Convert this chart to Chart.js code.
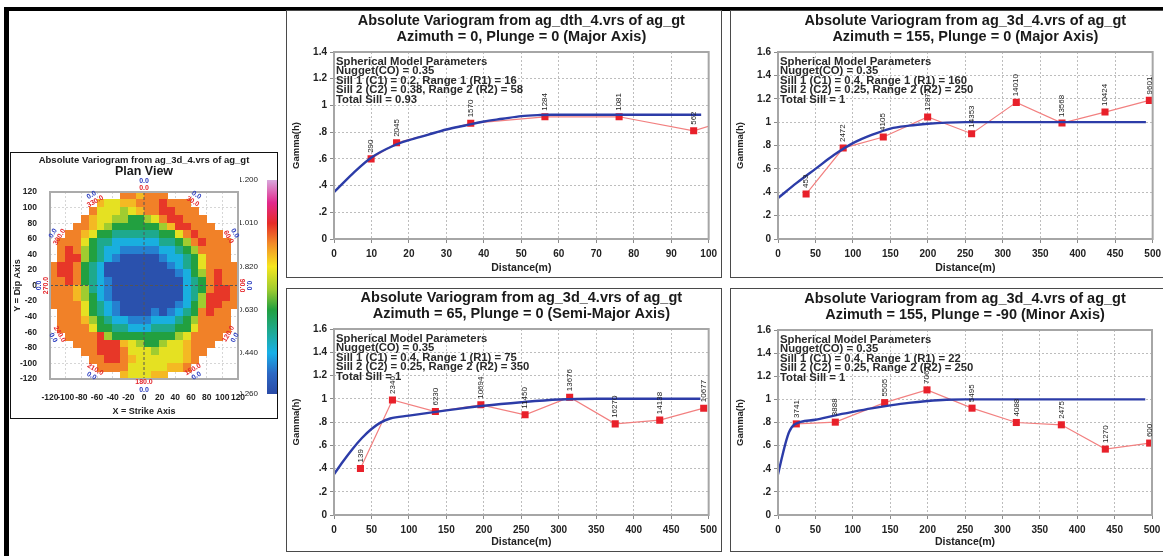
<!DOCTYPE html>
<html>
<head>
<meta charset="utf-8">
<script src="https://cdn.jsdelivr.net/npm/chart.js@4.4.1/dist/chart.umd.min.js"></script>
<style>
  html, body { margin: 0; padding: 0; background: #fff; }
  body { width: 1163px; height: 556px; position: relative; overflow: hidden; }
  .bar { position: absolute; background: #000; }
  .panel { position: absolute; box-shadow: inset 0 0 0 1px #4a4a4a; }
  .panel canvas, #planScale { position: absolute; left: 0; top: 0; }
  #planScale { left: 240px; top: 172px; }
</style>
</head>
<body>
<div class="bar" style="left:4px;top:7px;width:1159px;height:4px"></div>
<div class="bar" style="left:4px;top:7px;width:5px;height:549px"></div>

<div class="panel" style="left:10px;top:152px;width:268px;height:267px;box-shadow:inset 0 0 0 1px #111">
  <canvas id="planView" width="268" height="267"></canvas>
</div>
<canvas id="planScale" width="38" height="230"></canvas>

<div class="panel" style="left:286px;top:10px;width:436px;height:268px"><canvas id="vgAz0" width="436" height="268"></canvas></div>
<div class="panel" style="left:730px;top:10px;width:436px;height:268px"><canvas id="vgAz155" width="436" height="268"></canvas></div>
<div class="panel" style="left:286px;top:288px;width:436px;height:264px"><canvas id="vgAz65" width="436" height="264"></canvas></div>
<div class="panel" style="left:730px;top:288px;width:436px;height:264px"><canvas id="vgMinor" width="436" height="264"></canvas></div>

<script>
const FONT = '"Liberation Sans", Arial, sans-serif';

// ---------- variogram map (plan view) ----------
const planX = [-115, -105, -95, -85, -75, -65, -55, -45, -35, -25, -15, -5, 5, 15, 25, 35, 45, 55, 65, 75, 85, 95, 105, 115];
const planY = [115, 105, 95, 85, 75, 65, 55, 45, 35, 25, 15, 5, -5, -15, -25, -35, -45, -55, -65, -75, -85, -95, -105, -115];
// gamma value for each digit used in planRows ('.' = no value)
const planLevels = [0.28, 0.38, 0.45, 0.54, 0.63, 0.72, 0.80, 0.87, 0.93, 1.00];
const planRows = [
  '.........887888.........',
  '......766778889888......',
  '.....86665678899888.....',
  '....8766554456899888....',
  '...887654444445799888...',
  '..88764433333344689888..',
  '.8886433222222334589888.',
  '.8985432211111223458888.',
  '.8995432100000122346888.',
  '899843200000000123468888',
  '899843200000000012458988',
  '889843210000000002348988',
  '888753210000000002348998',
  '888754210000000002359998',
  '888864321000000012459988',
  '.8886432100001012348988.',
  '.8887543221112223458888.',
  '.8888644332223334468888.',
  '..88889544444444568888..',
  '...888999765445667888...',
  '....8899986665666788....',
  '.....88998766666678.....',
  '......888866666778......',
  '.........766677.........'
];
const planTicks = [-120, -100, -80, -60, -40, -20, 0, 20, 40, 60, 80, 100, 120];
const planAzimuths = [0, 30, 60, 90, 120, 150, 180, 210, 240, 270, 300, 330];
const colorbarTicks = [0.26, 0.44, 0.63, 0.82, 1.01, 1.2];

// ---------- directional variograms ----------
const az0Title = ['Absolute Variogram from ag_dth_4.vrs of ag_gt', 'Azimuth = 0, Plunge = 0 (Major Axis)'];
const az0Params = ['Spherical Model Parameters', 'Nugget(CO) = 0.35', 'Sill 1 (C1) = 0.2, Range 1 (R1) = 16', 'Sill 2 (C2) = 0.38, Range 2 (R2) = 58', 'Total Sill = 0.93'];
const az0Lag = [9.9, 16.7, 36.5, 56.3, 76.1, 96.0, 116.0];
const az0Gamma = [0.60, 0.72, 0.866, 0.915, 0.915, 0.81, 0.985];
const az0Pairs = ['290', '2045', '1570', '1284', '1081', '562', ''];
const az0ModelLag = [0, 5, 10, 16, 20, 25, 30, 35, 40, 45, 50, 55, 58, 98];
const az0ModelGamma = [0.35, 0.49, 0.61, 0.70, 0.74, 0.78, 0.82, 0.85, 0.88, 0.90, 0.92, 0.928, 0.93, 0.93];

const az155Title = ['Absolute Variogram from ag_3d_4.vrs of ag_gt', 'Azimuth = 155, Plunge = 0 (Major Axis)'];
const az155Params = ['Spherical Model Parameters', 'Nugget(CO) = 0.35', 'Sill 1 (C1) = 0.4, Range 1 (R1) = 160', 'Sill 2 (C2) = 0.25, Range 2 (R2) = 250', 'Total Sill = 1'];
const az155Lag = [37.5, 87.0, 140.5, 199.7, 258.4, 318.0, 379.0, 436.4, 495.6];
const az155Gamma = [0.385, 0.778, 0.873, 1.044, 0.901, 1.169, 0.992, 1.086, 1.186];
const az155Pairs = ['453', '2472', '4105', '12877', '14353', '14010', '13568', '10424', '9601'];
const az155ModelLag = [0, 25, 50, 75, 100, 125, 150, 175, 200, 225, 250, 491];
const az155ModelGamma = [0.35, 0.48, 0.60, 0.72, 0.82, 0.89, 0.945, 0.97, 0.986, 0.996, 1.0, 1.0];

const az65Title = ['Absolute Variogram from ag_3d_4.vrs of ag_gt', 'Azimuth = 65, Plunge = 0 (Semi-Major Axis)'];
const az65Params = ['Spherical Model Parameters', 'Nugget(CO) = 0.35', 'Sill 1 (C1) = 0.4, Range 1 (R1) = 75', 'Sill 2 (C2) = 0.25, Range 2 (R2) = 350', 'Total Sill = 1'];
const az65Lag = [35.3, 78.0, 135.3, 196.0, 255.0, 314.5, 375.3, 434.7, 493.4];
const az65Gamma = [0.40, 0.99, 0.89, 0.948, 0.862, 1.013, 0.784, 0.816, 0.919];
const az65Pairs = ['139', '2340', '6230', '10694', '11450', '13676', '16270', '14138', '10677'];
const az65ModelLag = [0, 12, 25, 37, 50, 62, 75, 100, 150, 200, 250, 300, 350, 489];
const az65ModelGamma = [0.35, 0.46, 0.57, 0.66, 0.74, 0.795, 0.83, 0.855, 0.90, 0.94, 0.97, 0.993, 1.0, 1.0];

const minorTitle = ['Absolute Variogram from ag_3d_4.vrs of ag_gt', 'Azimuth = 155, Plunge = -90 (Minor Axis)'];
const minorParams = ['Spherical Model Parameters', 'Nugget(CO) = 0.35', 'Sill 1 (C1) = 0.4, Range 1 (R1) = 22', 'Sill 2 (C2) = 0.25, Range 2 (R2) = 250', 'Total Sill = 1'];
const minorLag = [24.5, 76.6, 142.6, 199.2, 259.4, 318.6, 378.8, 437.6, 496.9];
const minorGamma = [0.788, 0.803, 0.972, 1.082, 0.924, 0.80, 0.78, 0.57, 0.622];
const minorPairs = ['3741', '3888', '5505', '7062', '5495', '4088', '2475', '1270', '600'];
const minorModelLag = [0, 5, 10, 15, 22, 50, 75, 100, 125, 150, 175, 200, 225, 250, 491];
const minorModelGamma = [0.35, 0.49, 0.62, 0.72, 0.783, 0.824, 0.86, 0.892, 0.922, 0.948, 0.97, 0.986, 0.997, 1.0, 1.0];

// rainbow colour ramp used by the map and its scale bar
const PALETTE = [
  [0.26, [42, 74, 166]], [0.35, [44, 104, 196]], [0.44, [24, 176, 232]], [0.53, [30, 170, 150]],
  [0.63, [34, 160, 64]], [0.72, [160, 204, 48]], [0.82, [246, 230, 30]], [0.92, [242, 140, 40]],
  [1.01, [230, 44, 40]], [1.10, [226, 40, 140]], [1.20, [216, 168, 220]]
];

function gammaColor(v) {
  if (v <= PALETTE[0][0]) return `rgb(${PALETTE[0][1].join(',')})`;
  for (let i = 1; i < PALETTE.length; i++) {
    const [v1, c1] = PALETTE[i];
    if (v <= v1) {
      const [v0, c0] = PALETTE[i - 1];
      const t = (v - v0) / (v1 - v0);
      const c = c0.map((k, j) => Math.round(k + (c1[j] - k) * t));
      return `rgb(${c.join(',')})`;
    }
  }
  return `rgb(${PALETTE[PALETTE.length - 1][1].join(',')})`;
}

function gammaTick(v) {
  const r = Math.round(v * 10) / 10;
  if (r === 0) return '0';
  return r < 1 ? String(r).slice(1) : String(r);
}

// ---------- plan view ----------
const planCells = {
  id: 'planCells',
  beforeDatasetsDraw(chart) {
    const { ctx, chartArea: a, scales: { x, y } } = chart;
    ctx.save();
    ctx.beginPath();
    ctx.rect(a.left, a.top, a.right - a.left, a.bottom - a.top);
    ctx.clip();
    planRows.forEach((row, j) => {
      [...row].forEach((ch, i) => {
        if (ch === '.') return;
        const x0 = Math.floor(x.getPixelForValue(planX[i] - 5));
        const x1 = Math.ceil(x.getPixelForValue(planX[i] + 5));
        const y0 = Math.floor(y.getPixelForValue(planY[j] + 5));
        const y1 = Math.ceil(y.getPixelForValue(planY[j] - 5));
        ctx.fillStyle = gammaColor(planLevels[+ch]);
        ctx.fillRect(x0, y0, x1 - x0, y1 - y0);
      });
    });
    ctx.restore();
  }
};

const planOverlay = {
  id: 'planOverlay',
  afterDatasetsDraw(chart) {
    const { ctx, chartArea: a, scales: { x, y } } = chart;
    const cx = x.getPixelForValue(0), cy = y.getPixelForValue(0);
    ctx.save();
    // dashed axes through the origin
    ctx.strokeStyle = '#555';
    ctx.lineWidth = 1;
    ctx.setLineDash([3, 2]);
    ctx.beginPath();
    ctx.moveTo(cx, a.top); ctx.lineTo(cx, a.bottom);
    ctx.moveTo(a.left, cy); ctx.lineTo(a.right, cy);
    ctx.stroke();
    ctx.setLineDash([]);
    ctx.strokeStyle = '#ababab';
    ctx.lineWidth = 2;
    ctx.strokeRect(a.left, a.top, a.right - a.left, a.bottom - a.top);

    // titles
    ctx.fillStyle = '#1a1a1a';
    ctx.textAlign = 'center';
    ctx.textBaseline = 'middle';
    ctx.font = `bold 9.5px ${FONT}`;
    ctx.fillText('Absolute Variogram from ag_3d_4.vrs of ag_gt', (a.left + a.right) / 2, a.top - 32);
    ctx.font = `bold 12.5px ${FONT}`;
    ctx.fillText('Plan View', (a.left + a.right) / 2, a.top - 20);

    // azimuth / plunge labels around the map
    ctx.font = `bold 7px ${FONT}`;
    planAzimuths.forEach(az => {
      const t = az * Math.PI / 180;
      const rot = az <= 90 ? az : (az < 270 ? az - 180 : az - 360);
      [[124.5, '#e4262c', az.toFixed(1)], [134, '#2a3cc0', '0.0']].forEach(([r, col, txt]) => {
        const px = x.getPixelForValue(r * Math.sin(t));
        const py = y.getPixelForValue(r * Math.cos(t));
        ctx.save();
        ctx.translate(px, py);
        ctx.rotate(rot * Math.PI / 180);
        ctx.fillStyle = col;
        ctx.fillText(txt, 0, 0);
        ctx.restore();
      });
    });
    ctx.restore();
  }
};

new Chart(document.getElementById('planView'), {
  type: 'scatter',
  data: { datasets: [] },
  options: {
    responsive: false,
    animation: false,
    events: [],
    layout: { padding: { top: 40, right: 40, left: 0, bottom: 0 } },
    plugins: { legend: { display: false }, tooltip: { enabled: false } },
    scales: {
      x: {
        type: 'linear', min: -120, max: 120,
        afterBuildTicks: s => { s.ticks = planTicks.map(v => ({ value: v })); },
        afterFit: s => { s.height = 40; },
        ticks: { autoSkip: false, maxRotation: 0, padding: 14, color: '#222', font: { family: FONT, size: 8.5, weight: 'bold' } },
        grid: { color: '#d6d6d6', drawTicks: false },
        border: { display: false, dash: [2, 2] },
        title: { display: true, text: 'X = Strike Axis', color: '#222', font: { family: FONT, size: 9, weight: 'bold' }, padding: { top: 0, bottom: 2 } }
      },
      y: {
        type: 'linear', min: -120, max: 120,
        afterBuildTicks: s => { s.ticks = planTicks.map(v => ({ value: v })); },
        afterFit: s => { s.width = 40; },
        ticks: { autoSkip: false, padding: 13, color: '#222', font: { family: FONT, size: 8.5, weight: 'bold' } },
        grid: { color: '#d6d6d6', drawTicks: false },
        border: { display: false, dash: [2, 2] },
        title: { display: true, text: 'Y = Dip Axis', color: '#222', font: { family: FONT, size: 9, weight: 'bold' }, padding: { top: 2, bottom: 0 } }
      }
    }
  },
  plugins: [planCells, planOverlay]
});

// colour scale bar beside the map
const colorbarFill = {
  id: 'colorbarFill',
  beforeDatasetsDraw(chart) {
    const { ctx, chartArea: a, scales: { y } } = chart;
    const grad = ctx.createLinearGradient(0, a.bottom, 0, a.top);
    PALETTE.forEach(([v, c]) => {
      const p = (y.getPixelForValue(v) - a.bottom) / (a.top - a.bottom);
      grad.addColorStop(Math.min(1, Math.max(0, p)), `rgb(${c.join(',')})`);
    });
    ctx.fillStyle = grad;
    ctx.fillRect(a.left, a.top, a.right - a.left, a.bottom - a.top);
  }
};

new Chart(document.getElementById('planScale'), {
  type: 'scatter',
  data: { datasets: [] },
  options: {
    responsive: false,
    animation: false,
    events: [],
    layout: { padding: { top: 8, right: 1, left: 0, bottom: 8 } },
    plugins: { legend: { display: false }, tooltip: { enabled: false } },
    scales: {
      x: { display: false, min: 0, max: 1 },
      y: {
        position: 'left', min: 0.26, max: 1.2,
        afterBuildTicks: s => { s.ticks = colorbarTicks.map(v => ({ value: v })); },
        afterFit: s => { s.width = 27; },
        ticks: { padding: 1, color: '#222', font: { family: FONT, size: 8 }, callback: v => Number(v).toFixed(3) },
        grid: { display: false },
        border: { display: false }
      }
    }
  },
  plugins: [colorbarFill]
});

// ---------- directional variogram panels ----------
const variogramText = {
  id: 'variogramText',
  afterDatasetsDraw(chart, args, opts) {
    const { ctx, chartArea: a } = chart;
    ctx.save();
    ctx.strokeStyle = '#a6a6a6';
    ctx.lineWidth = 2;
    ctx.strokeRect(a.left, a.top, a.right - a.left, a.bottom - a.top);

    const cx = (a.left + a.right) / 2;
    ctx.fillStyle = '#1a1a1a';
    ctx.textAlign = 'center';
    ctx.textBaseline = 'middle';
    ctx.font = `bold 14.5px ${FONT}`;
    ctx.fillText(opts.title[0], cx, a.top - 31);
    ctx.fillText(opts.title[1], cx, a.top - 15.5);

    ctx.textAlign = 'left';
    ctx.fillStyle = '#2a2a2a';
    ctx.font = `bold 11.3px ${FONT}`;
    opts.params.forEach((line, i) => ctx.fillText(line, a.left + 2, a.top + 9.5 + i * 9.5));

    // number of pairs written vertically above each experimental point
    ctx.font = `8px ${FONT}`;
    ctx.fillStyle = '#222';
    chart.getDatasetMeta(1).data.forEach((pt, i) => {
      const label = opts.pairs[i];
      if (!label || pt.x > a.right) return;
      ctx.save();
      ctx.translate(pt.x, pt.y - 6);
      ctx.rotate(-Math.PI / 2);
      ctx.fillText(label, 0, 0);
      ctx.restore();
    });
    ctx.restore();
  }
};

function variogramChart(id, box, area, s) {
  const axisFont = { family: FONT, size: 10, weight: 'bold' };
  const grid = { color: '#bdbdbd', lineWidth: 1, tickLength: 4, tickColor: '#8a8a8a', tickWidth: 1, tickBorderDash: [] };
  return new Chart(document.getElementById(id), {
    type: 'line',
    data: {
      datasets: [
        {
          label: 'Model',
          data: s.modelLag.map((d, i) => ({ x: d, y: s.modelGamma[i] })),
          borderColor: '#2c3ca8',
          borderWidth: 2.4,
          pointRadius: 0,
          cubicInterpolationMode: 'monotone',
          order: 0
        },
        {
          label: 'Experimental',
          data: s.lag.map((d, i) => ({ x: d, y: s.gamma[i] })),
          borderColor: '#f28080',
          borderWidth: 1.2,
          pointStyle: 'rect',
          pointRadius: 5,
          pointBackgroundColor: '#e8202a',
          pointBorderColor: '#e8202a',
          pointBorderWidth: 0,
          order: 1
        }
      ]
    },
    options: {
      responsive: false,
      animation: false,
      events: [],
      layout: { padding: { top: area.t - box.y, right: box.x + box.w - area.r, left: 0, bottom: 0 } },
      plugins: {
        legend: { display: false },
        tooltip: { enabled: false },
        variogramText: { title: s.title, params: s.params, pairs: s.pairs }
      },
      scales: {
        x: {
          type: 'linear', min: 0, max: s.xMax,
          afterFit: sc => { sc.height = box.y + box.h - area.b; },
          ticks: { stepSize: s.xStep, autoSkip: false, maxRotation: 0, padding: 5, color: '#222', font: axisFont },
          grid,
          border: { display: false, dash: [2, 2] },
          title: { display: true, text: 'Distance(m)', color: '#222', font: { family: FONT, size: 10.5, weight: 'bold' }, padding: { top: 0, bottom: 4 } }
        },
        y: {
          type: 'linear', min: 0, max: s.yMax,
          afterFit: sc => { sc.width = area.l - box.x; },
          ticks: { stepSize: 0.2, padding: 3, color: '#222', font: axisFont, callback: gammaTick },
          grid,
          border: { display: false, dash: [2, 2] },
          title: { display: true, text: 'Gamma(h)', color: '#222', font: { family: FONT, size: 9.5, weight: 'bold' }, padding: { top: 5, bottom: 0 } }
        }
      }
    },
    plugins: [variogramText]
  });
}

variogramChart('vgAz0', { x: 286, y: 10, w: 436, h: 268 }, { l: 334, t: 52, r: 713, b: 239 }, {
  title: az0Title, params: az0Params, lag: az0Lag, gamma: az0Gamma, pairs: az0Pairs,
  modelLag: az0ModelLag, modelGamma: az0ModelGamma, xMax: 100, xStep: 10, yMax: 1.4
});
variogramChart('vgAz155', { x: 730, y: 10, w: 436, h: 268 }, { l: 778, t: 52, r: 1155, b: 239 }, {
  title: az155Title, params: az155Params, lag: az155Lag, gamma: az155Gamma, pairs: az155Pairs,
  modelLag: az155ModelLag, modelGamma: az155ModelGamma, xMax: 500, xStep: 50, yMax: 1.6
});
variogramChart('vgAz65', { x: 286, y: 288, w: 436, h: 264 }, { l: 334, t: 329, r: 713, b: 515 }, {
  title: az65Title, params: az65Params, lag: az65Lag, gamma: az65Gamma, pairs: az65Pairs,
  modelLag: az65ModelLag, modelGamma: az65ModelGamma, xMax: 500, xStep: 50, yMax: 1.6
});
variogramChart('vgMinor', { x: 730, y: 288, w: 436, h: 264 }, { l: 778, t: 330, r: 1152, b: 515 }, {
  title: minorTitle, params: minorParams, lag: minorLag, gamma: minorGamma, pairs: minorPairs,
  modelLag: minorModelLag, modelGamma: minorModelGamma, xMax: 500, xStep: 50, yMax: 1.6
});
</script>
</body>
</html>
